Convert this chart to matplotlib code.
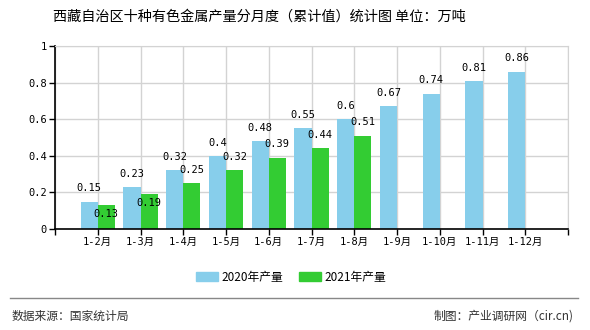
import matplotlib
matplotlib.use("Agg")
import matplotlib.pyplot as plt
import numpy as np
from matplotlib.patches import Patch
from matplotlib.lines import Line2D

plt.rcParams['font.family'] = ['Noto Sans CJK SC', 'DejaVu Sans']

# 数据
months = ['1-2月', '1-3月', '1-4月', '1-5月', '1-6月', '1-7月', '1-8月',
          '1-9月', '1-10月', '1-11月', '1-12月']
v2020 = [0.15, 0.23, 0.32, 0.4, 0.48, 0.55, 0.6, 0.67, 0.74, 0.81, 0.86]
v2021 = [0.13, 0.19, 0.25, 0.32, 0.39, 0.44, 0.51]
yticks = [0, 0.2, 0.4, 0.6, 0.8, 1]
ytick_labels = ['0', '0.2', '0.4', '0.6', '0.8', '1']

c2020 = '#87CEEB'
c2021 = '#33CC33'
mono = ['DejaVu Sans Mono', 'Noto Sans CJK SC']

fig = plt.figure(figsize=(5.9, 3.3), dpi=100)
ax = fig.add_axes([55 / 590, 1 - 229 / 330, 513 / 590, 183 / 330])

x = np.arange(1, len(months) + 1)
w = 0.4
ax.bar(x[:len(v2020)] - w / 2, v2020, w, color=c2020, zorder=2)
ax.bar(x[:len(v2021)] + w / 2, v2021, w, color=c2021, zorder=2)

for xi, v in zip(x, v2020):
    ax.annotate(f'{v:g}', (xi - w / 2, v), xytext=(0, 9.5), textcoords='offset points',
                ha='center', va='center', fontsize=7.5, family=mono, zorder=4)
# 小さい値のラベルは棒の中へ
g_off = [-6.5, -6.5, 9.5, 9.5, 9.5, 9.5, 9.5]
for xi, v, o in zip(x, v2021, g_off):
    ax.annotate(f'{v:g}', (xi + w / 2, v), xytext=(0, o), textcoords='offset points',
                ha='center', va='center', fontsize=7.5, family=mono, zorder=4)

ax.set_xlim(0, 12)
ax.set_ylim(0, 1)
ax.set_xticks([0] + list(x) + [12])
ax.set_xticklabels([''] + months + [''], family=mono, fontsize=7.5)
ax.set_yticks(yticks)
ax.set_yticklabels(ytick_labels, family=mono, fontsize=7.5)
ax.tick_params(axis='both', length=4, width=1, color='black', pad=2)
ax.grid(True, color='#d3d3d3', linewidth=1, zorder=0)
ax.set_axisbelow(True)
for s in ['top', 'right']:
    ax.spines[s].set_color('#d3d3d3')
for s in ['left', 'bottom']:
    ax.spines[s].set_color('black')
    ax.spines[s].set_linewidth(1.2)

fig.text(0.44, 1 - 17 / 330, '西藏自治区十种有色金属产量分月度（累计值）统计图 单位：万吨',
         ha='center', va='center', fontsize=10.2)

handles = [Patch(color=c2020, label='2020年产量'), Patch(color=c2021, label='2021年产量')]
fig.legend(handles=handles, loc='center', bbox_to_anchor=(291 / 590, 1 - 277 / 330), ncol=2,
           frameon=False, fontsize=8.5, handlelength=1.9, handleheight=0.7,
           columnspacing=1.3, handletextpad=0.3)

fig.add_artist(Line2D([10 / 590, 578 / 590], [1 - 298 / 330] * 2, color='#888888', linewidth=1))
fig.text(12 / 590, 1 - 316 / 330, '数据来源：国家统计局', ha='left', va='center', fontsize=8.5, color='#333333')
fig.text(574 / 590, 1 - 316 / 330, '制图：产业调研网（cir.cn)', ha='right', va='center', fontsize=8.5, color='#333333')

fig.savefig('out.png', dpi=100)
